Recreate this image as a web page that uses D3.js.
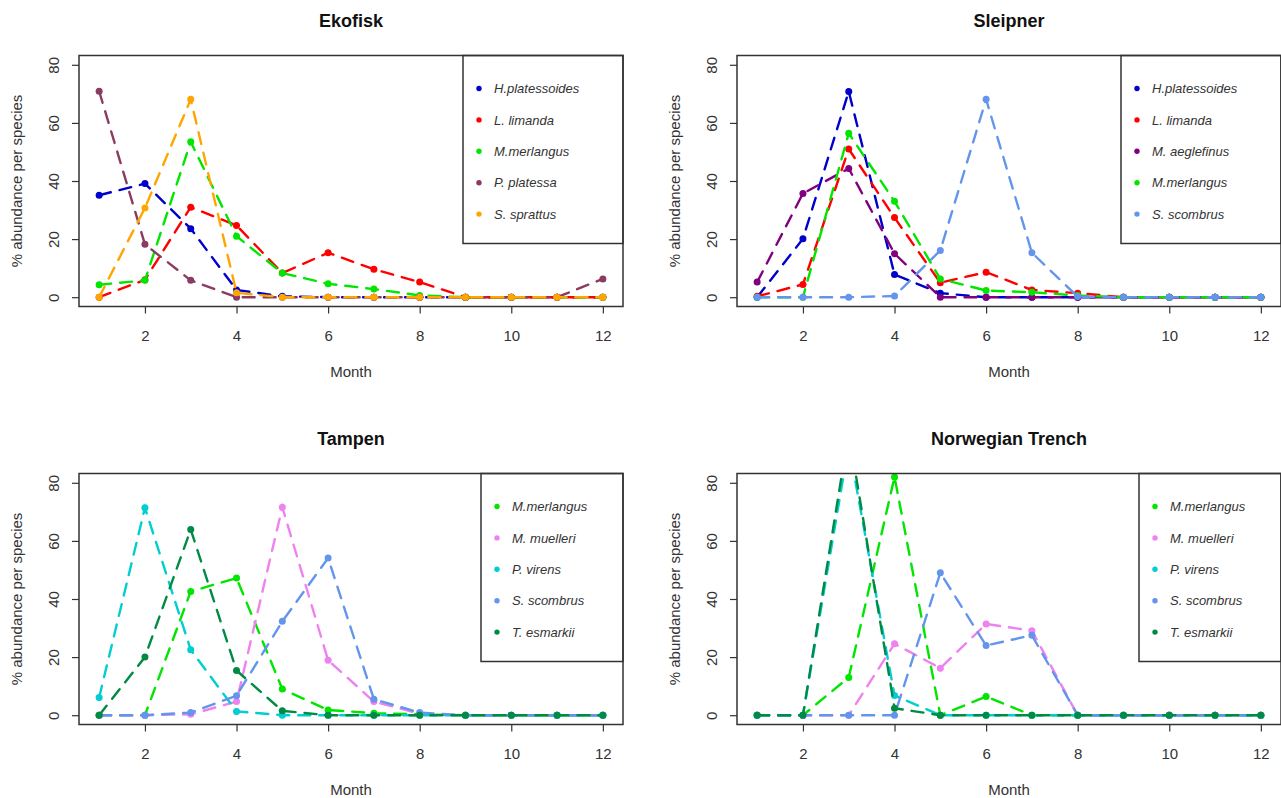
<!DOCTYPE html>
<html>
<head>
<meta charset="utf-8">
<script src="https://cdn.jsdelivr.net/npm/d3@7"></script>
<style>
  body { margin: 0; background: #fff; }
  text { font-family: "Liberation Sans", Arial, sans-serif; }
</style>
</head>
<body>
<div id="chart"></div>
<script>
// data
const months = [1, 2, 3, 4, 5, 6, 7, 8, 9, 10, 11, 12];
const yTicks = [0, 20, 40, 60, 80];
const xTicks = [2, 4, 6, 8, 10, 12];

const panelTitles = ['Ekofisk', 'Sleipner', 'Tampen', 'Norwegian Trench'];

const ekofiskSpecies = ['H.platessoides', 'L. limanda', 'M.merlangus', 'P. platessa', 'S. sprattus'];
const ekofiskValues = [
    [35.1, 39.1, 23.6, 2.5, 0.3, 0, 0, 0, 0, 0, 0, 0],
    [0, 6, 31, 24.7, 8.3, 15.3, 9.6, 5.2, 0, 0, 0, 0],
    [4.3, 5.8, 53.5, 21, 8.3, 4.6, 2.8, 0.6, 0, 0, 0, 0],
    [70.9, 18.2, 5.8, 0, 0, 0, 0, 0, 0, 0, 0, 6.3],
    [0, 30.7, 68.1, 1.5, 0, 0, 0, 0, 0, 0, 0, 0]
];

const sleipnerSpecies = ['H.platessoides', 'L. limanda', 'M. aeglefinus', 'M.merlangus', 'S. scombrus'];
const sleipnerValues = [
    [0, 20.1, 70.8, 7.8, 1.4, 0, 0, 0, 0, 0, 0, 0],
    [0.3, 4.4, 51, 27.4, 5, 8.6, 2.5, 1.4, 0, 0, 0, 0],
    [5.2, 35.7, 44.3, 15, 0, 0, 0, 0, 0, 0, 0, 0],
    [0, 0, 56.4, 33, 6.3, 2.3, 1.7, 0.6, 0, 0, 0, 0],
    [0, 0, 0, 0.4, 16.1, 68.1, 15.3, 0.2, 0, 0, 0, 0]
];

const tampenSpecies = ['M.merlangus', 'M. muelleri', 'P. virens', 'S. scombrus', 'T. esmarkii'];
const tampenValues = [
    [0, 0, 42.6, 47.2, 9, 1.8, 0.7, 0.3, 0, 0, 0, 0],
    [0, 0, 0.3, 4.7, 71.6, 18.9, 4.7, 0.5, 0, 0, 0, 0],
    [6.1, 71.4, 22.5, 1.3, 0, 0, 0, 0, 0, 0, 0, 0],
    [0, 0, 0.9, 6.7, 32.3, 54.1, 5.5, 0.9, 0, 0, 0, 0],
    [0, 20, 63.9, 15.4, 1.5, 0, 0, 0, 0, 0, 0, 0]
];

const trenchSpecies = ['M.merlangus', 'M. muelleri', 'P. virens', 'S. scombrus', 'T. esmarkii'];
const trenchValues = [
    [0, 0, 13, 82, 0, 6.4, 0, 0, 0, 0, 0, 0],
    [0, 0, 0, 24.6, 16.2, 31.4, 29.1, 0, 0, 0, 0, 0],
    [0, 0, 93, 6.8, 0, 0, 0, 0, 0, 0, 0, 0],
    [0, 0, 0, 0, 49, 24, 27.5, 0, 0, 0, 0, 0],
    [0, 0, 97.5, 2.4, 0, 0, 0, 0, 0, 0, 0, 0]
];

const speciesColors = {
    'H.platessoides': '#0000cd',
    'L. limanda': '#ff0000',
    'M.merlangus': '#00e600',
    'P. platessa': '#8b3a62',
    'S. sprattus': '#ffa500',
    'M. aeglefinus': '#800080',
    'S. scombrus': '#6495ed',
    'M. muelleri': '#ee82ee',
    'P. virens': '#00ced1',
    'T. esmarkii': '#008b45'
};

const panels = [
    { title: panelTitles[0], species: ekofiskSpecies, values: ekofiskValues, left: 79, top: 55.5, legendW: 160 },
    { title: panelTitles[1], species: sleipnerSpecies, values: sleipnerValues, left: 737, top: 55.5, legendW: 160 },
    { title: panelTitles[2], species: tampenSpecies, values: tampenValues, left: 79, top: 473.5, legendW: 142 },
    { title: panelTitles[3], species: trenchSpecies, values: trenchValues, left: 737, top: 473.5, legendW: 142 }
];

const width = 544, height = 251;

// R style axis extension (4%)
const x = d3.scaleLinear().domain([0.56, 12.44]).range([0, width]);
const y = d3.scaleLinear().domain([-3.2, 83.2]).range([height, 0]);

const svg = d3.select('#chart').append('svg')
    .attr('width', 1281)
    .attr('height', 798);

svg.append('rect').attr('width', 1281).attr('height', 798).attr('fill', '#fff');

const line = d3.line()
    .x((d, i) => x(months[i]))
    .y(d => y(d));

panels.forEach(function (p, pi) {
    const g = svg.append('g').attr('transform', `translate(${p.left},${p.top})`);

    g.append('clipPath').attr('id', 'clip' + pi)
        .append('rect').attr('width', width).attr('height', height);

    // title
    g.append('text')
        .attr('x', width / 2).attr('y', -29)
        .attr('text-anchor', 'middle')
        .style('font-size', '18px').style('font-weight', 'bold')
        .attr('fill', '#111')
        .text(p.title);

    // X axis
    const gx = g.append('g')
        .attr('transform', `translate(0,${height})`)
        .call(d3.axisBottom(x).tickValues(xTicks).tickSize(7).tickPadding(17));
    gx.select('.domain').remove();

    // Y axis
    const gy = g.append('g')
        .call(d3.axisLeft(y).tickValues(yTicks).tickSize(7));
    gy.select('.domain').remove();
    gy.selectAll('text')
        .attr('transform', 'rotate(-90)')
        .attr('x', 0).attr('y', -20).attr('dy', 0)
        .attr('text-anchor', 'middle');

    g.selectAll('.tick line').attr('stroke', '#333').attr('stroke-width', 1.2);
    g.selectAll('.tick text')
        .style('font-size', '15px')
        .style('font-family', '"Liberation Sans", Arial, sans-serif')
        .attr('fill', '#333');

    // axis titles
    g.append('text')
        .attr('x', width / 2).attr('y', height + 70.5)
        .attr('text-anchor', 'middle')
        .style('font-size', '15px').attr('fill', '#333')
        .text('Month');

    g.append('text')
        .attr('transform', `translate(-57,${height / 2}) rotate(-90)`)
        .attr('text-anchor', 'middle')
        .style('font-size', '15px').attr('fill', '#333')
        .text('% abundance per species');

    // Series
    const plot = g.append('g').attr('clip-path', `url(#clip${pi})`);

    p.species.forEach(function (name, si) {
        const color = speciesColors[name];
        const vals = p.values[si];
        const s = plot.append('g');

        s.append('path')
            .attr('d', line(vals))
            .attr('fill', 'none')
            .attr('stroke', color)
            .attr('stroke-width', 2.4)
            .attr('stroke-dasharray', '12,9')
            .attr('stroke-linecap', 'round');

        s.selectAll('circle')
            .data(vals)
            .enter().append('circle')
            .attr('cx', (d, i) => x(months[i]))
            .attr('cy', d => y(d))
            .attr('r', 3.5)
            .attr('fill', color);
    });

    // box
    g.append('rect')
        .attr('width', width).attr('height', height)
        .attr('fill', 'none').attr('stroke', '#333').attr('stroke-width', 1.5);

    // legend
    const lx = width - p.legendW;
    const leg = g.append('g').attr('transform', `translate(${lx},0)`);
    leg.append('rect')
        .attr('width', p.legendW).attr('height', 188)
        .attr('fill', 'none').attr('stroke', '#333').attr('stroke-width', 1.5);

    const item = leg.selectAll('.item')
        .data(p.species)
        .enter().append('g')
        .attr('class', 'item')
        .attr('transform', (d, i) => `translate(0,${33 + i * 31.4})`);

    item.append('circle')
        .attr('cx', 16).attr('r', 2.7)
        .attr('fill', d => speciesColors[d]);

    item.append('text')
        .attr('x', 31).attr('dy', '0.36em')
        .style('font-size', '13px').style('font-style', 'italic')
        .attr('fill', '#333')
        .text(d => d);
});
</script>
</body>
</html>
